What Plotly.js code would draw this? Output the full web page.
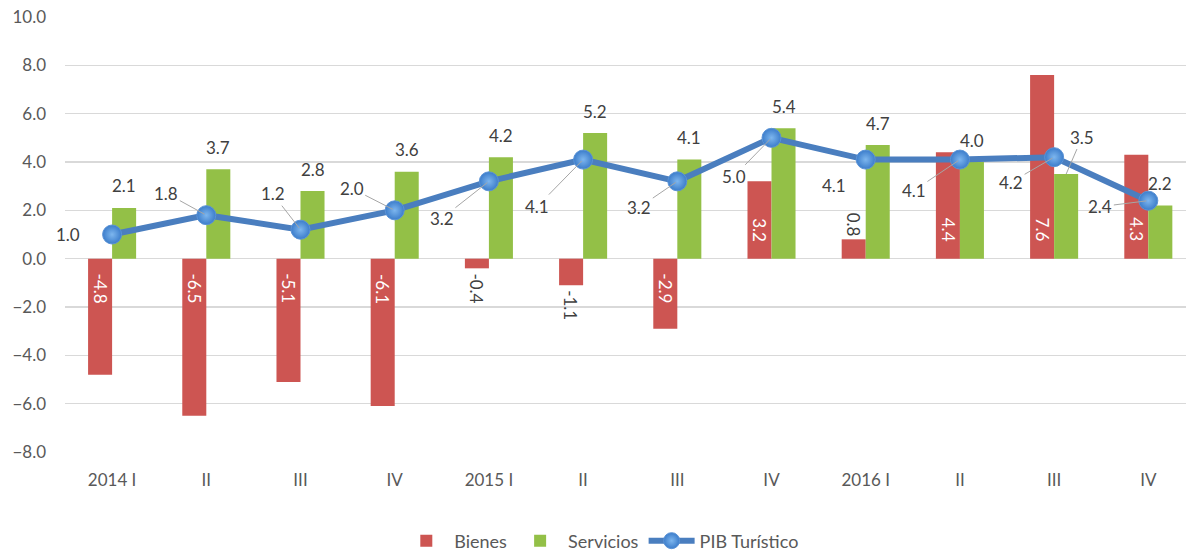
<!DOCTYPE html>
<html>
<head>
<meta charset="utf-8">
<script src="https://cdn.plot.ly/plotly-3.0.1.min.js"></script>
<style>
html, body { margin: 0; padding: 0; overflow: hidden; background: #fff; }
#chart { width: 1186px; height: 552px; }
</style>
</head>
<body>
<div id="chart"></div>
<script>
// ---- Data ----
const categories = ['2014 I', 'II', 'III', 'IV', '2015 I', 'II', 'III', 'IV', '2016 I', 'II', 'III', 'IV'];
const bienes = [-4.8, -6.5, -5.1, -6.1, -0.4, -1.1, -2.9, 3.2, 0.8, 4.4, 7.6, 4.3];
const servicios = [2.1, 3.7, 2.8, 3.6, 4.2, 5.2, 4.1, 5.4, 4.7, 4.0, 3.5, 2.2];
const pibTuristico = [1.0, 1.8, 1.2, 2.0, 3.2, 4.1, 3.2, 5.0, 4.1, 4.1, 4.2, 2.4];
const yTicks = [-8, -6, -4, -2, 0, 2, 4, 6, 8, 10];

// ---- Layout helpers (label placement, in pixels) ----
const pibLabelOffsets = [[-44, 0], [-40, -22], [-28, -36], [-43, -22], [-47, 37], [-46, 47],
                         [-38, 26], [-38, 39], [-32, 26], [-46, 31], [-43, 25], [-48, 6]];
const pibLeader = [false, true, true, true, true, true, true, true, false, true, true, true];
const servLeader = [false, false, false, false, false, false, false, false, false, false, true, false];

const idx = categories.map((c, i) => i);
const BAR_HALF = 0.1275;
const FONT = 'Lato, "Open Sans", sans-serif';
const labelFont = { family: FONT, size: 17, color: '#404040' };

const traces = [
  {
    type: 'bar', name: 'Bienes', x: idx, y: bienes,
    marker: { color: '#CD5552' },
    hoverinfo: 'y'
  },
  {
    type: 'bar', name: 'Servicios', x: idx, y: servicios,
    marker: { color: '#93C047' },
    hoverinfo: 'y'
  },
  {
    type: 'scatter', mode: 'lines+markers', name: 'PIB Turístico', x: idx, y: pibTuristico,
    line: { color: '#4A7EBF', width: 6 },
    marker: { size: 19, color: '#3C7DCB', line: { color: '#5B93D6', width: 1 },
              gradient: { type: 'radial', color: '#7DB6EE' } },
    hoverinfo: 'y'
  }
];

const annotations = [];
// Bienes labels (rotated, inside base / outside end)
bienes.forEach((v, i) => {
  const inside = Math.abs(v) >= 2;
  const neg = v < 0;
  annotations.push({
    x: i - BAR_HALF, y: inside ? 0 : v, xref: 'x', yref: 'y',
    text: v.toFixed(1), textangle: 90, showarrow: false,
    xanchor: 'center', yanchor: 'middle',
    yshift: inside ? (neg ? -30 : 29) : (neg ? -20 : 15),
    font: { family: FONT, size: 17, color: inside ? '#FFFFFF' : '#404040' }
  });
});
// Servicios labels
servicios.forEach((v, i) => {
  if (servLeader[i]) {
    annotations.push({
      x: i + BAR_HALF, y: v, xref: 'x', yref: 'y', text: v.toFixed(1),
      showarrow: true, arrowhead: 0, arrowwidth: 1, arrowcolor: '#A6A6A6',
      ax: 16, ay: -37, standoff: 0, font: labelFont
    });
  } else {
    annotations.push({
      x: i + BAR_HALF, y: v, xref: 'x', yref: 'y', text: v.toFixed(1),
      showarrow: false, xanchor: 'center', yanchor: 'middle', yshift: 22, font: labelFont
    });
  }
});
// PIB labels
pibTuristico.forEach((v, i) => {
  const [ox, oy] = pibLabelOffsets[i];
  if (pibLeader[i]) {
    annotations.push({
      x: i, y: v, xref: 'x', yref: 'y', text: v.toFixed(1),
      showarrow: true, arrowhead: 0, arrowwidth: 1, arrowcolor: '#A6A6A6',
      ax: ox, ay: oy, standoff: 2, font: labelFont
    });
  } else {
    annotations.push({
      x: i, y: v, xref: 'x', yref: 'y', text: v.toFixed(1),
      showarrow: false, xanchor: 'center', yanchor: 'middle',
      xshift: ox, yshift: -oy, font: labelFont
    });
  }
});

const layout = {
  width: 1186, height: 552,
  margin: { l: 65, r: 0, t: 17, b: 100, autoexpand: false },
  paper_bgcolor: '#FFFFFF', plot_bgcolor: '#FFFFFF',
  font: { family: FONT, color: '#595959', size: 16 },
  barmode: 'group', bargap: 0.49, bargroupgap: 0,
  showlegend: true,
  legend: {
    orientation: 'h', xref: 'container', yref: 'container',
    x: 0.507, xanchor: 'center', y: 0.02, yanchor: 'middle',
    font: { family: FONT, size: 18, color: '#595959' }, itemwidth: 46,
    traceorder: 'normal'
  },
  xaxis: {
    range: [-0.5, 11.4], tickvals: idx, ticktext: categories,
    showgrid: false, zeroline: false, showline: false, ticks: '',
    tickfont: { family: FONT, size: 17, color: '#595959' }, ticklabelstandoff: 16, fixedrange: true
  },
  yaxis: {
    range: [-8, 10], tickvals: yTicks, tickformat: '.1f',
    showgrid: true, gridcolor: '#D9D9D9', gridwidth: 1.5,
    zeroline: true, zerolinecolor: '#D9D9D9', zerolinewidth: 1.5,
    showline: false, ticks: '',
    tickfont: { family: FONT, size: 17, color: '#595959' }, ticklabelstandoff: 18, fixedrange: true
  },
  annotations: annotations
};

Plotly.newPlot('chart', traces, layout, { displayModeBar: false, staticPlot: true });
</script>
</body>
</html>
